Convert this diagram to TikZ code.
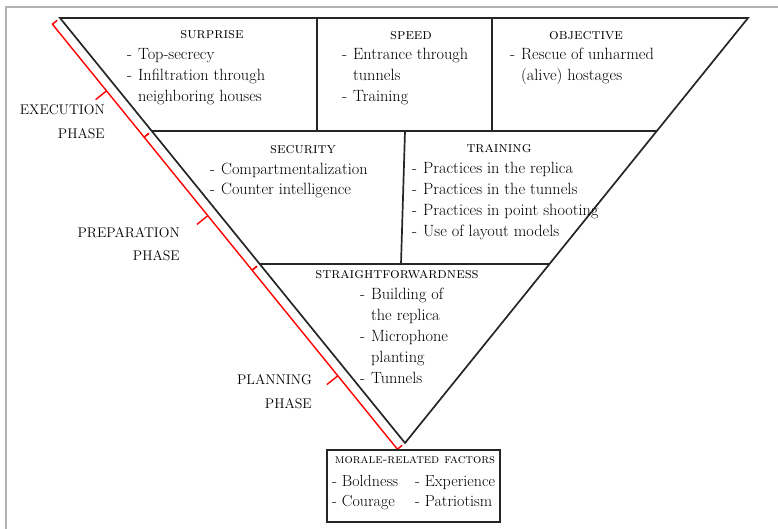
\documentclass[tikz,border=0pt]{standalone}
\usetikzlibrary{calc}
\newcommand\dlist[1]{\begin{tabular}[t]{@{}l@{\hspace{6pt}}l@{}}#1\end{tabular}}
\begin{document}
\begin{tikzpicture}[x=1pt,y=-1pt,
  blk/.style={line width=1.7pt, black!85},
  brk/.style={red, line width=1.4pt},
  head/.style={font=\fontsize{15.2}{17}\selectfont\scshape, inner sep=0, anchor=base},
  items/.style={font=\fontsize{16.3}{21}\selectfont, inner sep=0, anchor=base west},
  items20/.style={font=\fontsize{16.3}{20}\selectfont, inner sep=0, anchor=base west},
  phase/.style={font=\fontsize{14}{16}\selectfont, inner sep=0, anchor=base east}]
\useasboundingbox (0,0) rectangle (778,529);
\draw[gray!60, line width=1.3pt] (6,529) -- (6,7) -- (778,7);
% triangle
\coordinate (TL) at (60,18);
\coordinate (TR) at (748,18);
\coordinate (AP) at (405,443);
\coordinate (L1) at ($(TL)!0.2659!(AP)$);
\coordinate (R1) at ($(TR)!0.2659!(AP)$);
\coordinate (L2) at ($(TL)!0.5788!(AP)$);
\coordinate (R2) at ($(TR)!0.5788!(AP)$);
\draw[blk, line join=miter] (TL) -- (TR) -- (AP) -- cycle;
\draw[blk] (L1) -- (R1);
\draw[blk] (L2) -- (R2);
\draw[blk] (317,18) -- (317,131);
\draw[blk] (492,18) -- (492,131);
\draw[blk] (405,131) -- (401,264);
% red brackets
\foreach \A/\B in {TL/L1, L1/L2, L2/AP}{
  \draw[brk, line join=round] ($(\A)+(-2.8,2.3)$) -- ($(\A)+(-7.6,6.2)$) -- ($(\B)+(-7.6,6.2)$) -- ($(\B)+(-2.8,2.3)$);
  \draw[brk] ($(\A)!0.59!(\B)+(-7.6,6.2)$) -- ($(\A)!0.59!(\B)+(-18.5,15)$);
}
% phase labels
\node[phase] (ex1) at (105,115) {EXECUTION};
\node[phase] (ex2) at (105,139) {PHASE};
\node[phase] (pr1) at (180,237) {PREPARATION};
\node[phase] (pr2) at (180,260) {PHASE};
\node[phase] (pl1) at (312,384) {PLANNING};
\node[phase] (pl2) at (312,408) {PHASE};
% top row
\node[head] (h1) at (212,39) {surprise};
\node[items] (i1) at (127,60) {\dlist{- & Top-secrecy\\ - & Infiltration through\\ & neighboring houses}};
\node[head] (h2) at (411,40) {speed};
\node[items] (i2) at (342,60) {\dlist{- & Entrance through\\ & tunnels\\ - & Training}};
\node[head] (h3) at (586,40) {objective};
\node[items] (i3) at (510,60) {\dlist{- & Rescue of unharmed\\ & (alive) hostages}};
% second row
\node[head] (h4) at (303,154) {security};
\node[items20] (i4) at (210,175) {\dlist{- & Compartmentalization\\ - & Counter intelligence}};
\node[head] (h5) at (499,153) {training};
\node[items] (i5) at (412,174) {\dlist{- & Practices in the replica\\ - & Practices in the tunnels\\ - & Practices in point shooting\\ - & Use of layout models}};
% third row
\node[head] (h6) at (397,278) {straightforwardness};
\node[items] (i6) at (360,299) {\dlist{- & Building of\\ & the replica\\ - & Microphone\\ & planting\\ - & Tunnels}};
% morale box
\node[draw, line width=1.4pt, black!85, minimum width=173pt, minimum height=72pt, inner sep=0] (box) at (413.5,486) {};
\node[head, font=\fontsize{13}{15}\selectfont\scshape] (h7) at (415,463) {morale-related factors};
\node[font=\fontsize{16}{20}\selectfont, inner sep=0, anchor=base west] (i7) at (332,486) {\begin{tabular}[t]{@{}p{83pt}@{}l@{}}- Boldness & - Experience\\ - Courage & - Patriotism\end{tabular}};
\end{tikzpicture}
\end{document}
